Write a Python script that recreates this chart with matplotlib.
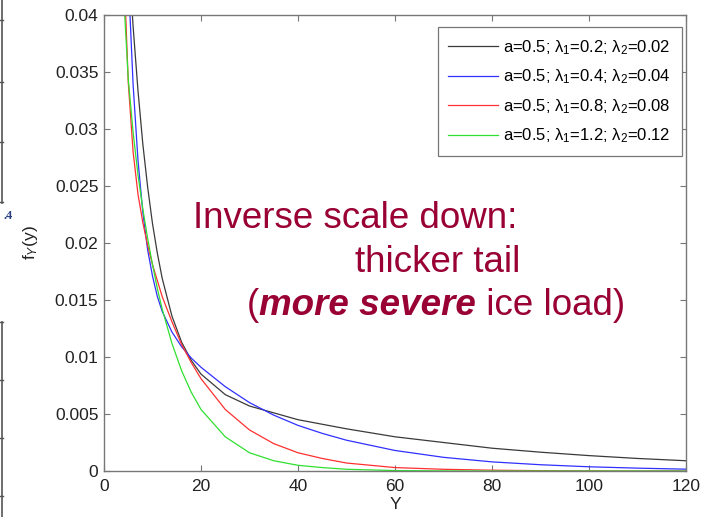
import matplotlib
matplotlib.use("Agg")
from matplotlib import pyplot as plt
from matplotlib.lines import Line2D

# Data
y_grid = [3, 4, 5, 6, 7, 8, 9, 10, 11, 12, 14, 16, 18, 20,
          25, 30, 35, 40, 45, 50, 60, 70, 80, 90, 100, 110, 120]

f_black = [0.0643, 0.0542, 0.0458, 0.0390, 0.0334, 0.0287, 0.0249, 0.0217, 0.0191, 0.0169,
           0.0136, 0.0113, 0.0097, 0.0085, 0.0067, 0.0057, 0.0051, 0.0045, 0.0041, 0.0037,
           0.0030, 0.0025, 0.0020, 0.00165, 0.00135, 0.0011, 0.0009]
f_blue = [0.0780, 0.0574, 0.0434, 0.0339, 0.0273, 0.0227, 0.0194, 0.0171, 0.0153, 0.0140,
          0.0122, 0.0109, 0.0099, 0.0091, 0.0074, 0.0060, 0.0049, 0.0040, 0.0033, 0.0027,
          0.0018, 0.0012, 0.0008, 0.00055, 0.00037, 0.00025, 0.00016]
f_red = [0.0678, 0.0453, 0.0341, 0.0280, 0.0243, 0.0218, 0.0198, 0.0181, 0.0167, 0.0153,
         0.0131, 0.0111, 0.0095, 0.0081, 0.0054, 0.0036, 0.0024, 0.0016, 0.0011, 0.0007,
         0.0003, 0.00015, 0.00007, 0.00003, 0.00001, 0.0, 0.0]
f_green = [0.0583, 0.0421, 0.0344, 0.0297, 0.0260, 0.0230, 0.0204, 0.0181, 0.0160, 0.0142,
           0.0112, 0.0088, 0.0069, 0.0054, 0.0030, 0.0016, 0.0009, 0.0005, 0.0003, 0.00015,
           0.00004, 0.00001, 0.0, 0.0, 0.0, 0.0, 0.0]

labels = [r"a=0.5; λ$_1$=0.2; λ$_2$=0.02",
          r"a=0.5; λ$_1$=0.4; λ$_2$=0.04",
          r"a=0.5; λ$_1$=0.8; λ$_2$=0.08",
          r"a=0.5; λ$_1$=1.2; λ$_2$=0.12"]
colors = ["#3a3a3a", "#3030ff", "#ff3030", "#30e030"]

x_ticks = [0, 20, 40, 60, 80, 100, 120]
y_ticks = [0, 0.005, 0.01, 0.015, 0.02, 0.025, 0.03, 0.035, 0.04]
y_tick_labels = ["0", "0.005", "0.01", "0.015", "0.02", "0.025", "0.03", "0.035", "0.04"]

plt.rcParams["font.family"] = ["Liberation Sans", "DejaVu Sans"]
plt.rcParams["mathtext.fontset"] = "custom"
plt.rcParams["mathtext.rm"] = "Liberation Sans"
plt.rcParams["mathtext.it"] = "Liberation Sans:italic"

W, H = 708, 517
fig = plt.figure(figsize=(W / 100, H / 100), dpi=100)
ax = fig.add_axes([104 / W, 1 - 471 / H, 582 / W, 456 / H])

for series, col, lab in zip([f_black, f_blue, f_red, f_green], colors, labels):
    ax.plot(y_grid, series, color=col, linewidth=0.9, label=lab)

ax.set_xlim(0, 120)
ax.set_ylim(0, 0.04)
ax.set_xticks(x_ticks)
ax.set_yticks(y_ticks)
ax.set_yticklabels(y_tick_labels)
ax.tick_params(direction="in", length=4, width=0.8, top=True, right=True,
               labelsize=12.5, labelcolor="#222222", color="#777777")
ax.tick_params(axis="x", pad=6)
ax.tick_params(axis="y", pad=4)
for sp in ax.spines.values():
    sp.set_color("#777777")
    sp.set_linewidth(1.0)

ax.set_xlabel("Y", fontsize=12.5, color="#222222", labelpad=2)
ax.set_ylabel(r"f$_Y$(y)", fontsize=12.5, color="#222222", labelpad=11)

leg = ax.legend(loc="upper right", bbox_to_anchor=((682 - 104) / 582, (471 - 27) / 456),
                borderaxespad=0, fontsize=12, fancybox=False, framealpha=1,
                edgecolor="#777777", handlelength=3.0, handletextpad=0.3,
                labelspacing=0.65, borderpad=0.65)
leg.get_frame().set_linewidth(0.9)

# annotation text
red_txt = "#990033"
fs = 26.5
fig.text(193 / W, 1 - 228 / H, "Inverse scale down:", fontsize=fs, color=red_txt, va="baseline")
fig.text(520 / W, 1 - 272 / H, "thicker tail", fontsize=fs, color=red_txt, va="baseline", ha="right")

fig.canvas.draw()
renderer = fig.canvas.get_renderer()
x = 247 / W
for piece, weight, style in [("(", "normal", "normal"),
                             ("more severe", "bold", "italic"),
                             (" ice load)", "normal", "normal")]:
    t = fig.text(x, 1 - 315 / H, piece, fontsize=fs, color=red_txt, va="baseline",
                 fontweight=weight, fontstyle=style)
    bb = t.get_window_extent(renderer)
    x = bb.x1 / fig.bbox.width

# remnants of neighbouring slide content at the left edge
edge = "#555555"
fig.add_artist(Line2D([2 / W, 2 / W], [1, 1 - 203 / H], color=edge, lw=1.2, transform=fig.transFigure))
for py in [20, 82, 142, 202]:
    fig.add_artist(Line2D([0, 3 / W], [1 - py / H, 1 - py / H], color=edge, lw=1, transform=fig.transFigure))
fig.add_artist(Line2D([2 / W, 2 / W], [1 - 322 / H, 0], color=edge, lw=1.2, transform=fig.transFigure))
for py in [322, 380, 438, 496]:
    fig.add_artist(Line2D([0, 3 / W], [1 - py / H, 1 - py / H], color=edge, lw=1, transform=fig.transFigure))
fig.text(3 / W, 1 - 219 / H, ".4", fontsize=9, color="#2a3f7f", fontweight="bold", family="Liberation Serif")

fig.savefig("out.png", dpi=100)
